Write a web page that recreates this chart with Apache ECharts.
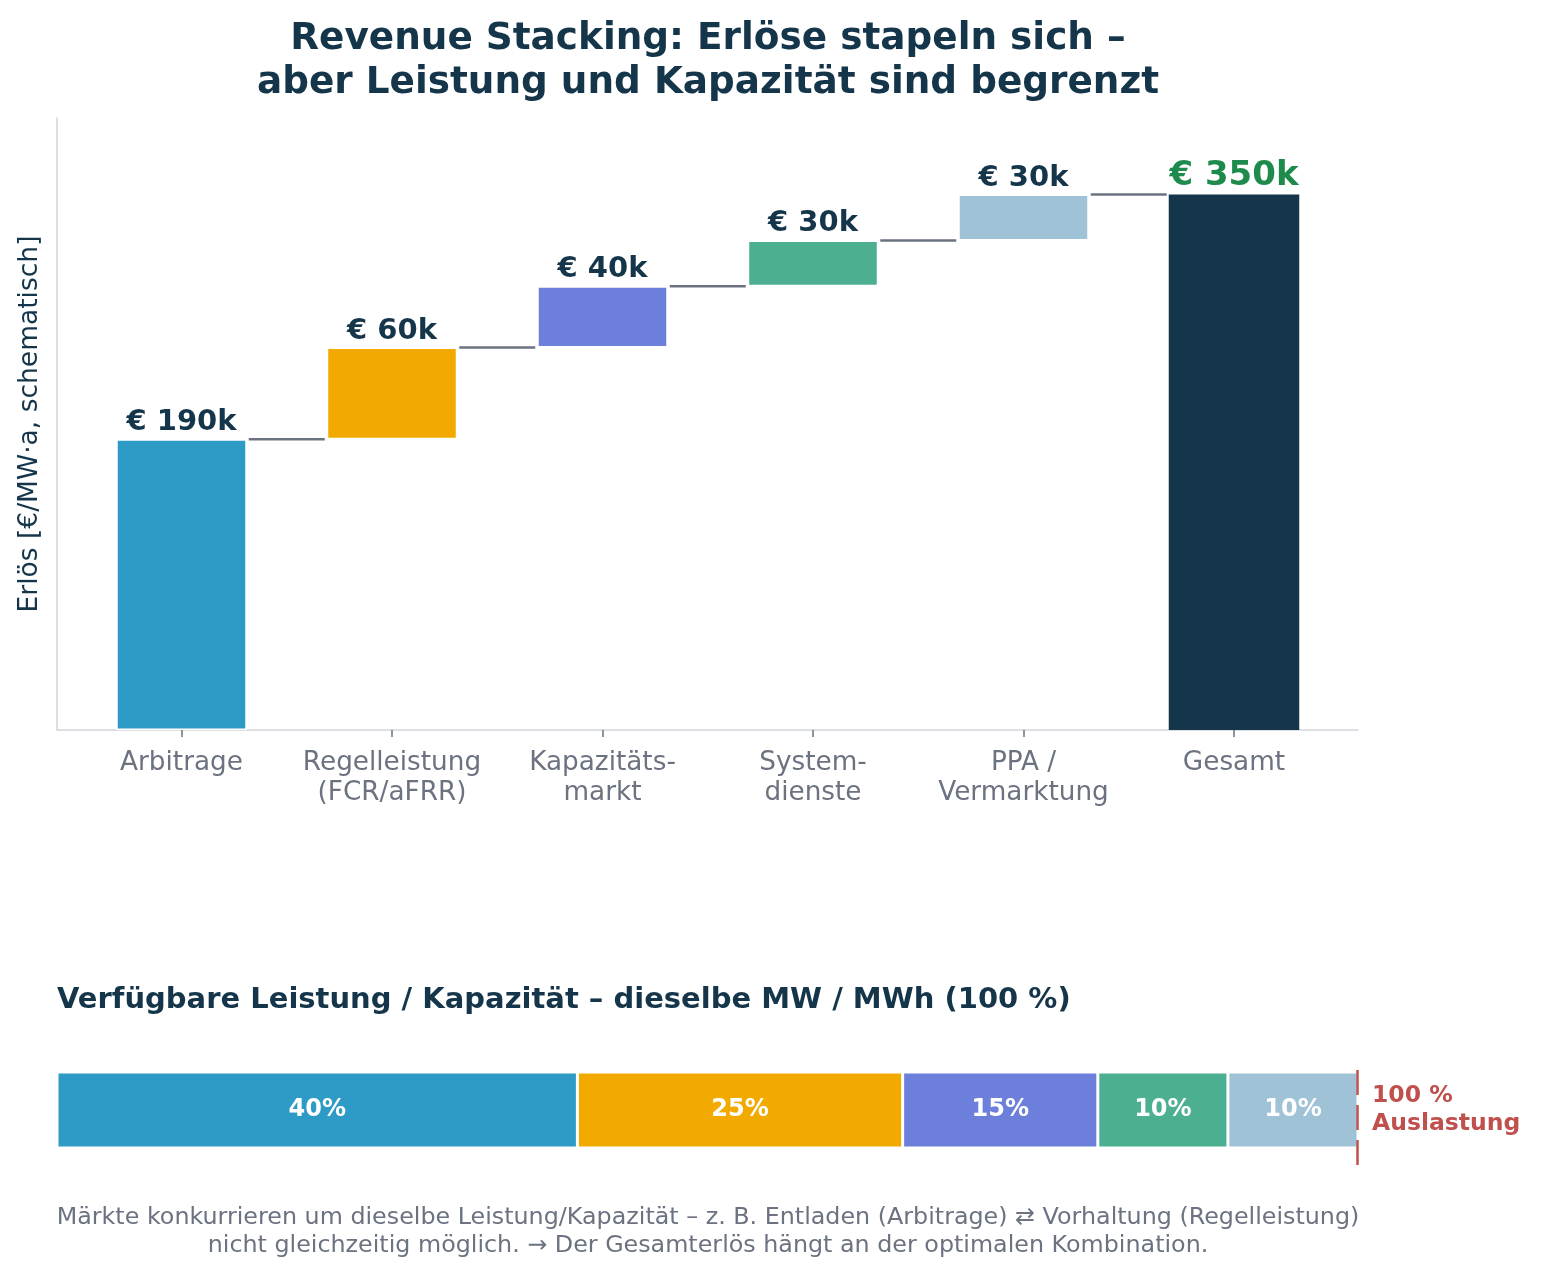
<!DOCTYPE html>
<html>
<head>
<meta charset="utf-8">
<script src="https://cdn.jsdelivr.net/npm/echarts@6/dist/echarts.min.js"></script>
<style>
html,body{margin:0;padding:0;background:#fff;}
#chart{width:1541px;height:1276px;}
</style>
</head>
<body>
<div id="chart"></div>
<script>
// ---- data ----
const categories = ['Arbitrage', 'Regelleistung\n(FCR/aFRR)', 'Kapazitäts-\nmarkt', 'System-\ndienste', 'PPA /\nVermarktung', 'Gesamt'];
const increments = [190, 60, 40, 30, 30];
const totalValue = 350;
const barColors = ['#2e9bc6', '#f2aa00', '#6b7fdb', '#4caf91', '#9fc2d6', '#15364a'];
const shareNames = ['Arbitrage', 'Regelleistung', 'Kapazitätsmarkt', 'Systemdienste', 'PPA'];
const shareValues = [40, 25, 15, 10, 10];
const yMax = 400;

const titleText = 'Revenue Stacking: Erlöse stapeln sich –\naber Leistung und Kapazität sind begrenzt';
const yName = 'Erlös [€/MW·a, schematisch]';
const subTitle = 'Verfügbare Leistung / Kapazität – dieselbe MW / MWh (100 %)';
const footnote = 'Märkte konkurrieren um dieselbe Leistung/Kapazität – z. B. Entladen (Arbitrage) ⇄ Vorhaltung (Regelleistung)\nnicht gleichzeitig möglich. → Der Gesamterlös hängt an der optimalen Kombination.';
const capLabel = '100 %\nAuslastung';

// ---- derived ----
const bases = [];
const cumul = [];
let run = 0;
increments.forEach(v => { bases.push(run); run += v; cumul.push(run); });
bases.push(0);
const visible = increments.concat([totalValue]);

const FONT = '"DejaVu Sans", sans-serif';
const DARK = '#15364a';
const GRAY = '#6b7280';

const chart = echarts.init(document.getElementById('chart'), null, {renderer: 'canvas'});

const valueData = visible.map((v, i) => {
  const item = {value: v, itemStyle: {color: barColors[i]}};
  if (i === visible.length - 1) {
    item.itemStyle.borderWidth = 0;
    item.label = {color: '#1e8b4c', fontSize: 34, distance: 1};
  }
  return item;
});

const shareSeries = shareValues.map((v, i) => ({
  type: 'bar',
  name: shareNames[i],
  stack: 'share',
  xAxisIndex: 2,
  yAxisIndex: 2,
  barWidth: '100%',
  data: [v],
  itemStyle: {color: barColors[i], borderColor: '#ffffff', borderWidth: 1.5},
  label: {show: true, position: 'inside', formatter: '{c}%', color: '#ffffff',
          fontFamily: FONT, fontWeight: 'bold', fontSize: 24},
  silent: true,
  animation: false
}));

const option = {
  animation: false,
  backgroundColor: '#ffffff',
  grid: [
    {left: 57, top: 118, width: 1301, height: 612},
    {left: 76.25, top: 118, width: 1263, height: 612},
    {left: 57, top: 1072, width: 1301, height: 76},
    {left: 57, top: 1068, width: 1300, height: 97}
  ],
  xAxis: [
    {gridIndex: 0, type: 'value', min: 0, max: 1,
     axisLine: {show: true, lineStyle: {color: '#d1d5db', width: 1.5}},
     axisTick: {show: false}, axisLabel: {show: false}, splitLine: {show: false}},
    {gridIndex: 1, type: 'category', data: categories,
     axisLine: {show: false},
     axisTick: {show: true, alignWithLabel: true, length: 7, lineStyle: {color: GRAY, width: 1.5}},
     axisLabel: {color: GRAY, fontFamily: FONT, fontSize: 26.3, lineHeight: 30, margin: 18, interval: 0},
     splitLine: {show: false}},
    {gridIndex: 2, type: 'value', min: 0, max: 100, show: false},
    {gridIndex: 3, type: 'value', min: 0, max: 100, show: false}
  ],
  yAxis: [
    {gridIndex: 0, type: 'value', min: 0, max: yMax,
     axisLine: {show: true, lineStyle: {color: '#d1d5db', width: 1.5}},
     axisTick: {show: false}, axisLabel: {show: false}, splitLine: {show: false},
     name: yName, nameLocation: 'middle', nameGap: 13, nameRotate: 90,
     nameTextStyle: {color: DARK, fontFamily: FONT, fontSize: 26.5}},
    {gridIndex: 1, type: 'value', min: 0, max: yMax, show: false},
    {gridIndex: 2, type: 'category', data: ['Kapazität'], show: false},
    {gridIndex: 3, type: 'value', min: 0, max: 1, show: false}
  ],
  series: [
    {type: 'bar', stack: 'wf', xAxisIndex: 1, yAxisIndex: 1, barWidth: '62%',
     data: bases, itemStyle: {color: 'rgba(0,0,0,0)', borderWidth: 0}, silent: true},
    {type: 'bar', stack: 'wf', xAxisIndex: 1, yAxisIndex: 1, barWidth: '62%',
     data: valueData,
     itemStyle: {borderColor: '#ffffff', borderWidth: 1.5},
     label: {show: true, position: 'top', distance: 2, formatter: '€ {c}k',
             color: DARK, fontFamily: FONT, fontWeight: 'bold', fontSize: 29},
     silent: true},
    {type: 'custom', xAxisIndex: 1, yAxisIndex: 1,
     data: cumul.map((v, i) => [i, v]),
     renderItem: function (params, api) {
       const i = api.value(0);
       const y = api.value(1);
       const p1 = api.coord([i, y]);
       const p2 = api.coord([i + 1, y]);
       const hw = api.size([1, 0])[0] * 0.62 / 2;
       return {type: 'line',
               shape: {x1: p1[0] + hw + 2, y1: p1[1], x2: p2[0] - hw - 2, y2: p2[1]},
               style: {stroke: GRAY, lineWidth: 2.5}};
     },
     silent: true, z: 3},
    ...shareSeries,
    {type: 'line', xAxisIndex: 3, yAxisIndex: 3, data: [[0, 0]], symbol: 'none',
     lineStyle: {opacity: 0}, silent: true,
     markLine: {symbol: 'none', silent: true, label: {show: false},
                lineStyle: {color: '#c0504d', type: [25, 10], width: 2.5},
                data: [{xAxis: 100}]}}
  ],
  graphic: [
    {type: 'text', x: 708, y: 61,
     style: {text: titleText, font: 'bold 37.4px ' + FONT, fill: DARK,
             textAlign: 'center', textVerticalAlign: 'middle', lineHeight: 44}},
    {type: 'text', x: 57, y: 1000,
     style: {text: subTitle, font: 'bold 29px ' + FONT, fill: DARK,
             textAlign: 'left', textVerticalAlign: 'middle'}},
    {type: 'text', x: 1372, y: 1110,
     style: {text: capLabel, font: 'bold 23.5px ' + FONT, fill: '#c0504d',
             textAlign: 'left', textVerticalAlign: 'middle', lineHeight: 28}},
    {type: 'text', x: 708, y: 1232,
     style: {text: footnote, font: '23.8px ' + FONT, fill: GRAY,
             textAlign: 'center', textVerticalAlign: 'middle', lineHeight: 28}}
  ]
};
chart.setOption(option);
</script>
</body>
</html>
